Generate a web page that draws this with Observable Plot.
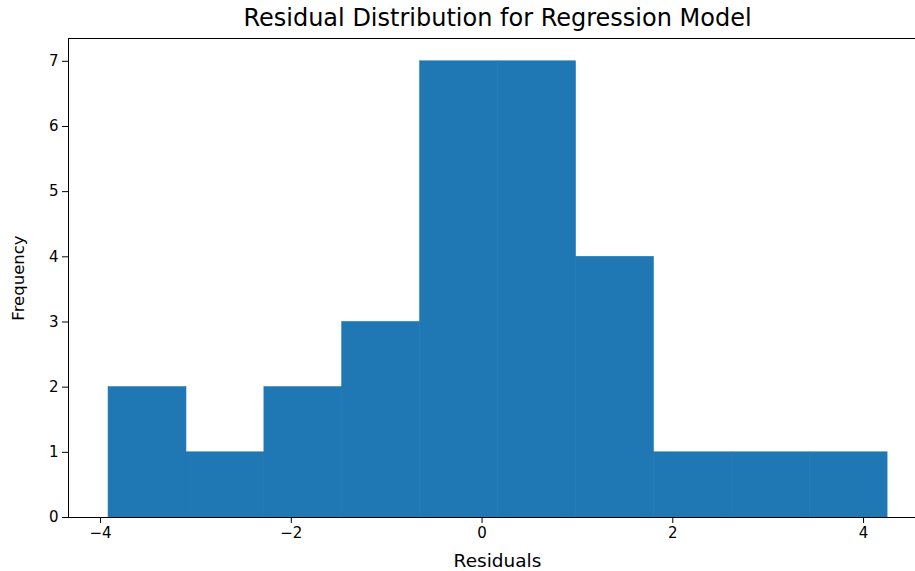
<!DOCTYPE html>
<html>
<head>
<meta charset="utf-8">
<script src="https://cdn.jsdelivr.net/npm/d3@7"></script>
<script src="https://cdn.jsdelivr.net/npm/@observablehq/plot@0.6"></script>
<style>
  html, body { margin: 0; padding: 0; background: #fff; }
  svg { font-family: "DejaVu Sans", sans-serif; }
</style>
</head>
<body>
<div id="chart"></div>
<script>
const titleText = "Residual Distribution for Regression Model";
const xLabel = "Residuals";
const yLabel = "Frequency";
const binEdges = [-3.916, -3.099, -2.282, -1.466, -0.649, 0.168, 0.985, 1.802, 2.618, 3.435, 4.252];
const counts = [2, 1, 2, 3, 7, 7, 4, 1, 1, 1];
const xTicks = [-4, -2, 0, 2, 4];
const yTicks = [0, 1, 2, 3, 4, 5, 6, 7];

const bins = counts.map((c, i) => ({x1: binEdges[i], x2: binEdges[i + 1], count: c}));

const chart = Plot.plot({
  width: 915,
  height: 571,
  marginLeft: 68,
  marginRight: -11,
  marginTop: 38,
  marginBottom: 54,
  style: {fontFamily: "DejaVu Sans, sans-serif", color: "#000", background: "#fff"},
  x: {domain: [-4.336, 4.66]},
  y: {domain: [0, 7.35]},
  marks: [
    Plot.rectY(bins, {x1: "x1", x2: "x2", y: "count", fill: "#1f77b4", stroke: "#1f77b4", strokeWidth: 0.6}),
    Plot.frame({stroke: "#000", strokeWidth: 1}),
    Plot.axisX({ticks: xTicks, tickFormat: d3.format("d"), tickSize: 6, tickPadding: 4, fontSize: 15,
      label: null}),
    Plot.axisX({ticks: [], label: xLabel, labelAnchor: "center", labelOffset: 49, fontSize: 18.5, labelArrow: "none", tickSize: 0}),
    Plot.axisY({ticks: yTicks, tickSize: 6, tickPadding: 4, fontSize: 15, label: null}),
    Plot.axisY({ticks: [], label: yLabel, labelAnchor: "center", labelOffset: 56, fontSize: 16.5, labelArrow: "none", tickSize: 0}),
    Plot.text([titleText], {frameAnchor: "top", dy: -20, fontSize: 24, lineAnchor: "middle", fill: "#000"})
  ]
});
document.getElementById("chart").appendChild(chart);
</script>
</body>
</html>
